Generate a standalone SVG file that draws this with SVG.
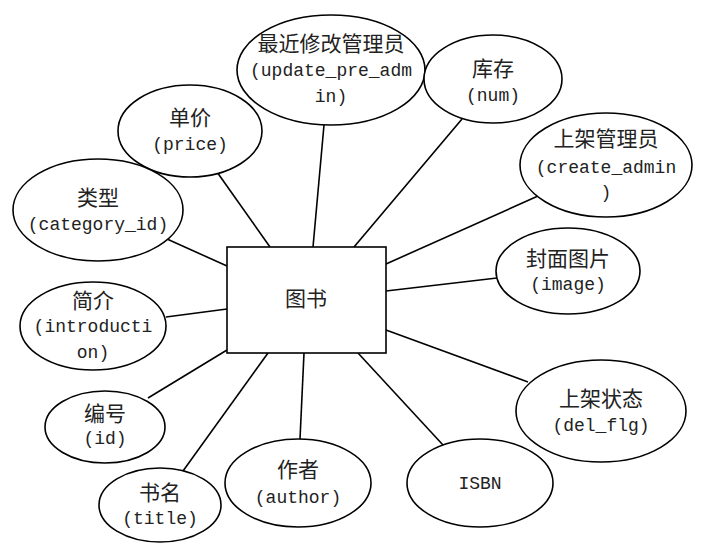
<svg xmlns="http://www.w3.org/2000/svg" width="703" height="549" viewBox="0 0 703 549">
<style>
.e{fill:#fff;stroke:#000;stroke-width:1.6}
.c{stroke:#000;stroke-width:1.6;fill:none}
.z{font-family:"Noto Sans CJK SC","Noto Sans CJK JP",sans-serif;font-size:21px;fill:#222;text-anchor:middle}
.l{font-family:"Liberation Mono","DejaVu Sans Mono",monospace;font-size:18px;fill:#222;text-anchor:middle}
</style>
<rect width="703" height="549" fill="#fff"/>
<g id="connectors">
<line class="c" x1="313" y1="247" x2="324" y2="125"/>
<line class="c" x1="270" y1="247" x2="217" y2="172"/>
<line class="c" x1="354" y1="247" x2="462" y2="119"/>
<line class="c" x1="386" y1="264" x2="538" y2="196"/>
<line class="c" x1="386" y1="291" x2="497" y2="278"/>
<line class="c" x1="386" y1="330" x2="528" y2="382"/>
<line class="c" x1="358" y1="353" x2="443" y2="445"/>
<line class="c" x1="304" y1="353" x2="300" y2="439"/>
<line class="c" x1="268" y1="353" x2="183" y2="471"/>
<line class="c" x1="227" y1="350" x2="148" y2="398"/>
<line class="c" x1="227" y1="309" x2="166" y2="317"/>
<line class="c" x1="227" y1="266" x2="167" y2="239"/>
</g>
<g id="book">
<rect x="227" y="247" width="159" height="106" fill="#fff" stroke="#000" stroke-width="1.6"/>
<text class="z" x="306" y="306">图书</text>
</g>
<g id="update_admin">
<ellipse class="e" cx="331" cy="70" rx="94" ry="55"/>
<text class="z" x="331" y="51">最近修改管理员</text>
<text class="l" x="331" y="76">(update_pre_adm</text>
<text class="l" x="331" y="102">in)</text>
</g>
<g id="num">
<ellipse class="e" cx="493" cy="79" rx="69" ry="44"/>
<text class="z" x="493" y="76">库存</text>
<text class="l" x="493" y="101">(num)</text>
</g>
<g id="price">
<ellipse class="e" cx="190" cy="131" rx="72" ry="46"/>
<text class="z" x="190" y="125">单价</text>
<text class="l" x="190" y="150">(price)</text>
</g>
<g id="create_admin">
<ellipse class="e" cx="606" cy="165" rx="86" ry="52"/>
<text class="z" x="606" y="146">上架管理员</text>
<text class="l" x="606" y="173">(create_admin</text>
<text class="l" x="606" y="198">)</text>
</g>
<g id="category">
<ellipse class="e" cx="98" cy="210" rx="85" ry="51"/>
<text class="z" x="98" y="205">类型</text>
<text class="l" x="98" y="230">(category_id)</text>
</g>
<g id="image">
<ellipse class="e" cx="568" cy="271" rx="72" ry="43"/>
<text class="z" x="568" y="266">封面图片</text>
<text class="l" x="568" y="290">(image)</text>
</g>
<g id="introduction">
<ellipse class="e" cx="93" cy="326" rx="73" ry="44"/>
<text class="z" x="93" y="308">简介</text>
<text class="l" x="93" y="332">(introducti</text>
<text class="l" x="93" y="358">on)</text>
</g>
<g id="del_flg">
<ellipse class="e" cx="601" cy="411" rx="85" ry="51"/>
<text class="z" x="601" y="406">上架状态</text>
<text class="l" x="601" y="431">(del_flg)</text>
</g>
<g id="isbn">
<ellipse class="e" cx="480" cy="483" rx="73" ry="44"/>
<text class="l" x="480" y="489">ISBN</text>
</g>
<g id="id">
<ellipse class="e" cx="105" cy="427" rx="60" ry="36"/>
<text class="z" x="105" y="421">编号</text>
<text class="l" x="105" y="444">(id)</text>
</g>
<g id="title">
<ellipse class="e" cx="160" cy="505" rx="61" ry="37"/>
<text class="z" x="160" y="500">书名</text>
<text class="l" x="160" y="524">(title)</text>
</g>
<g id="author">
<ellipse class="e" cx="298" cy="483" rx="73" ry="44"/>
<text class="z" x="298" y="477">作者</text>
<text class="l" x="298" y="503">(author)</text>
</g>
</svg>
